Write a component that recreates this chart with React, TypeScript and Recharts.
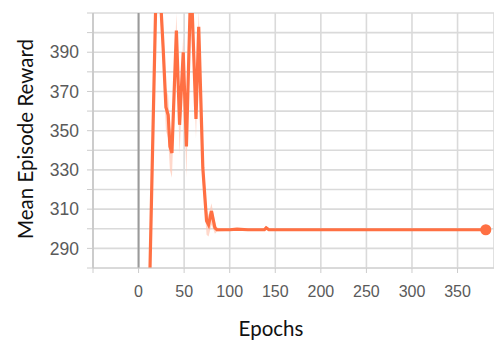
import React from 'react';
import {
  ComposedChart,
  Line,
  Area,
  XAxis,
  YAxis,
  CartesianGrid,
  ReferenceLine
} from 'recharts';

// values
const epochs = [12, 20, 24, 27, 30, 32.5, 34.4, 36.6, 41.5, 45, 49, 52.5, 57.5, 63, 66, 70.5, 74.6, 76.8, 80, 83.8, 86, 100, 108, 120, 138, 140, 143, 160, 200, 250, 300, 350, 381];
const rewards = [268, 440, 418, 392, 362, 358, 342, 338.6, 401, 353, 390, 342, 429, 356, 403, 331, 304, 302, 309, 300.4, 299.5, 299.5, 299.8, 299.5, 299.5, 300.5, 299.5, 299.5, 299.5, 299.5, 299.5, 299.5, 299.5];
const bandLow = [265, 428, 408, 382, 350, 346, 330, 326, 392, 338, 382, 326, 418, 346, 394, 323, 297, 296, 302, 297.5, 298.6, 299, 299.2, 299, 299, 299.4, 299, 299, 299, 299, 299, 299, 299];
const bandHigh = [271, 452, 428, 400, 372, 368, 352, 348, 410, 364, 398, 354, 442, 366, 412, 339, 310, 307, 313, 303.5, 300.5, 300, 300.4, 300, 300, 301.6, 300, 300, 300, 300, 300, 300, 300];

const xTicks = [-50, 0, 50, 100, 150, 200, 250, 300, 350];
const yTicks = [280, 290, 300, 310, 320, 330, 340, 350, 360, 370, 380, 390, 400, 410];
const yLabels = [290, 310, 330, 350, 370, 390];

const data = epochs.map((e, i) => ({
  epoch: e,
  reward: rewards[i],
  band: [bandLow[i], bandHigh[i]]
}));

const tickFont = { fontSize: 16, fill: '#5a5a5a', fontFamily: 'Liberation Sans, Arial, sans-serif' };
const yTickFont = { ...tickFont, fontSize: 17.5 };
const titleFont = 'Lato, "Open Sans", sans-serif';

const LastDot = (props: any) => {
  const { cx, cy, index } = props;
  if (index !== epochs.length - 1) return <g key={`d${index}`} />;
  return <circle key={`d${index}`} cx={cx} cy={cy} r={5.5} fill="#ff7043" />;
};

export default function App() {
  return (
    <div style={{ position: 'absolute', left: 0, top: 0, width: 494, height: 340, background: '#fff' }}>
      <ComposedChart
        width={494}
        height={340}
        data={data}
        margin={{ top: 13, right: 0, left: 0, bottom: 42 }}
      >
        <CartesianGrid stroke="#dadada" strokeWidth={1.6} />
        <XAxis
          dataKey="epoch"
          type="number"
          domain={[-50, 390]}
          allowDataOverflow
          ticks={xTicks}
          tickFormatter={(v: number) => (v < 0 ? '' : String(v))}
          height={30}
          tickSize={5}
          tickMargin={13}
          tick={tickFont}
          axisLine={{ stroke: '#d0d0d0' }}
          tickLine={{ stroke: '#cccccc' }}
        />
        <YAxis
          type="number"
          domain={[280, 410]}
          allowDataOverflow
          ticks={yTicks}
          interval={0}
          tickFormatter={(v: number) => (yLabels.includes(v) ? String(v) : '')}
          width={93}
          tickSize={6}
          tickMargin={8}
          tick={yTickFont}
          axisLine={{ stroke: '#c4c4c4', strokeWidth: 1.5 }}
          tickLine={{ stroke: '#cccccc' }}
        />
        <ReferenceLine x={0} stroke="#9a9a9a" strokeWidth={2} />
        <Area
          type="linear"
          dataKey="band"
          stroke="none"
          fill="#ffc7b5"
          fillOpacity={0.7}
          isAnimationActive={false}
        />
        <Line
          type="linear"
          dataKey="reward"
          stroke="#ff7043"
          strokeWidth={3.2}
          dot={LastDot}
          activeDot={false}
          isAnimationActive={false}
        />
      </ComposedChart>
      <div
        style={{
          position: 'absolute',
          left: 25,
          top: 139,
          transform: 'translate(-50%, -50%) rotate(-90deg)',
          whiteSpace: 'nowrap',
          fontFamily: titleFont,
          fontSize: 20.5,
          color: '#111'
        }}
      >
        Mean Episode Reward
      </div>
      <div
        style={{
          position: 'absolute',
          left: 271,
          top: 328,
          transform: 'translate(-50%, -50%)',
          whiteSpace: 'nowrap',
          fontFamily: titleFont,
          fontSize: 20.5,
          color: '#111'
        }}
      >
        Epochs
      </div>
    </div>
  );
}
